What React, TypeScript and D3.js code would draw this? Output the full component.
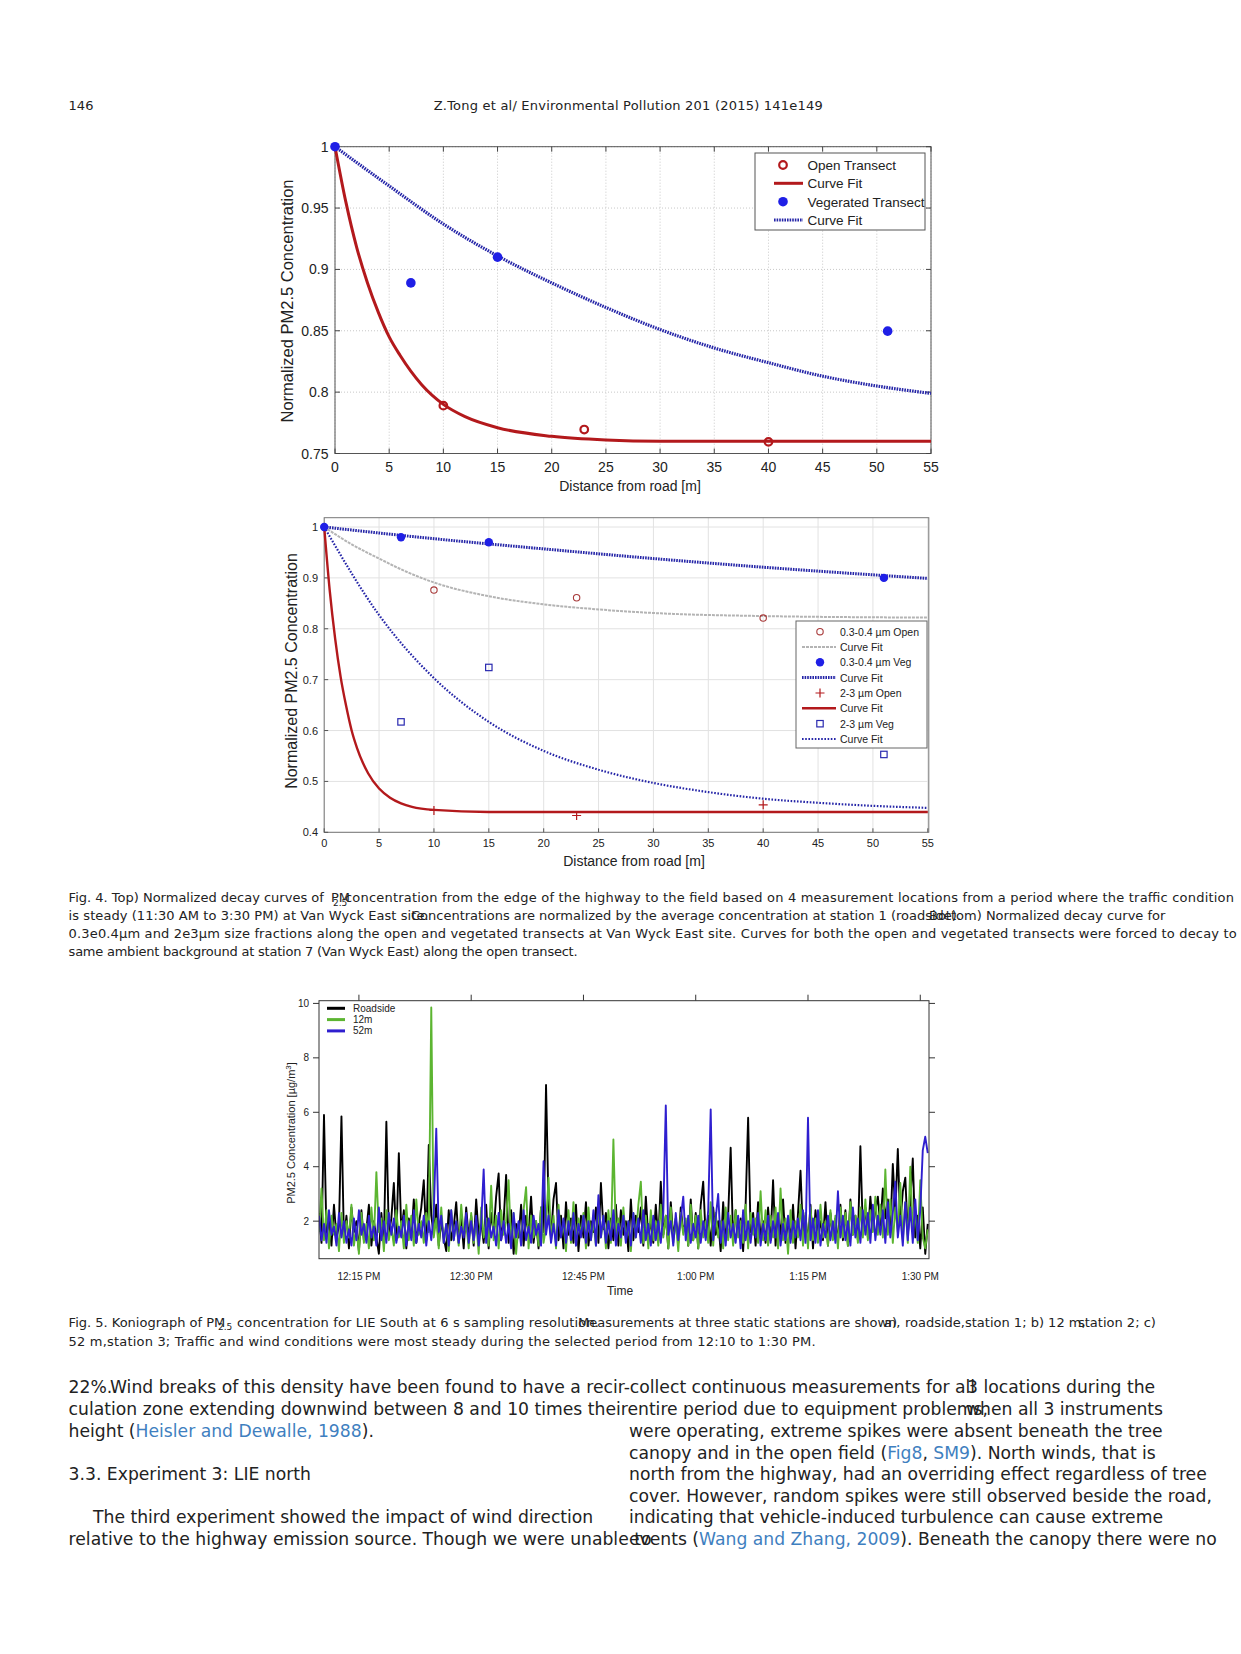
import React from 'react';
import * as d3 from 'd3';

// ---------- Top chart data ----------
const TOP_X_TICKS = [0, 5, 10, 15, 20, 25, 30, 35, 40, 45, 50, 55];
const TOP_Y_TICKS = [0.75, 0.8, 0.85, 0.9, 0.95, 1];
const TOP_Y_LABELS = ['0.75', '0.8', '0.85', '0.9', '0.95', '1'];
const TOP_OPEN_X = [10, 23, 40];
const TOP_OPEN_Y = [0.789, 0.7695, 0.7595];
const TOP_VEG_X = [0, 7, 15, 51];
const TOP_VEG_Y = [1.0, 0.889, 0.91, 0.8497];
const TOP_OPEN_FIT_X = [0, 1, 2, 3, 4, 5, 6, 8, 10, 12, 15, 20, 25, 30, 40, 55];
const TOP_OPEN_FIT_Y = [1.0, 0.955, 0.918, 0.889, 0.865, 0.845, 0.83, 0.806, 0.79, 0.78, 0.771, 0.764, 0.761, 0.76, 0.76, 0.76];
const TOP_VEG_FIT_X = [0, 5, 10, 15, 20, 25, 30, 35, 40, 45, 50, 55];
const TOP_VEG_FIT_Y = [1.0, 0.968, 0.937, 0.911, 0.889, 0.869, 0.851, 0.836, 0.824, 0.813, 0.805, 0.799];

// ---------- Middle chart data ----------
const MID_X_TICKS = [0, 5, 10, 15, 20, 25, 30, 35, 40, 45, 50, 55];
const MID_Y_TICKS = [0.4, 0.5, 0.6, 0.7, 0.8, 0.9, 1];
const MID_Y_LABELS = ['0.4', '0.5', '0.6', '0.7', '0.8', '0.9', '1'];
const SMALL_OPEN_X = [10, 23, 40];
const SMALL_OPEN_Y = [0.876, 0.861, 0.821];
const SMALL_OPEN_FIT_X = [0, 2.5, 5, 7.5, 10, 15, 20, 25, 30, 40, 55];
const SMALL_OPEN_FIT_Y = [1.0, 0.966, 0.938, 0.912, 0.891, 0.864, 0.848, 0.838, 0.831, 0.825, 0.822];
const SMALL_VEG_X = [0, 7, 15, 51];
const SMALL_VEG_Y = [1.0, 0.98, 0.97, 0.9];
const SMALL_VEG_FIT_X = [0, 10, 20, 30, 40, 55];
const SMALL_VEG_FIT_Y = [1.0, 0.977, 0.957, 0.938, 0.921, 0.899];
const LARGE_OPEN_X = [10, 23, 40];
const LARGE_OPEN_Y = [0.443, 0.433, 0.454];
const LARGE_OPEN_FIT_X = [0, 0.5, 1, 1.5, 2, 2.5, 3, 4, 5, 6, 7, 8, 10, 15, 55];
const LARGE_OPEN_FIT_Y = [1.0, 0.876, 0.78, 0.705, 0.648, 0.6, 0.565, 0.516, 0.486, 0.468, 0.457, 0.45, 0.444, 0.44, 0.44];
const LARGE_VEG_X = [7, 15, 51];
const LARGE_VEG_Y = [0.617, 0.724, 0.553];
const LARGE_VEG_FIT_X = [0, 5, 10, 15, 20, 25, 30, 35, 40, 45, 50, 55];
const LARGE_VEG_FIT_Y = [1.0, 0.827, 0.703, 0.617, 0.56, 0.523, 0.497, 0.479, 0.466, 0.458, 0.452, 0.448];

// ---------- Bottom chart data (20 s steps from 12:09:40) ----------
const SERIES_NAMES = ['Roadside', '12m', '52m'];
const Y3_TICKS = [2, 4, 6, 8, 10];
const TIME_TICK_LABELS = ['12:15 PM', '12:30 PM', '12:45 PM', '1:00 PM', '1:15 PM', '1:30 PM'];
const TIME_TICK_HM = [[12, 15], [12, 30], [12, 45], [13, 0], [13, 15], [13, 30]];
const ROADSIDE = [
  2.3, 1.2, 5.9, 1.5, 2.0, 1.1, 2.6, 1.4, 1.8, 5.85, 1.3, 2.2, 1.0, 2.5, 1.6,
  2.0, 0.9, 2.4, 1.3, 1.7, 2.6, 1.1, 2.0, 1.4, 0.8, 2.3, 1.2, 5.65, 1.5, 2.1,
  3.4, 1.3, 4.5, 1.6, 2.4, 1.0, 2.1, 1.4, 2.8, 1.2, 1.9, 2.5, 3.5, 1.3, 4.8,
  2.2, 1.5, 2.6, 1.1, 2.0, 1.4, 0.9, 2.4, 1.3, 1.8, 2.7, 1.2, 2.1, 1.0, 2.5,
  1.4, 2.2, 1.1, 2.8, 1.5, 2.0, 1.2, 2.6, 1.0, 2.3, 1.6, 2.9, 3.75, 1.3, 2.0,
  3.7, 1.2, 2.4, 0.8, 1.9, 1.4, 2.6, 1.1, 2.2, 1.5, 2.9, 1.2, 2.0, 1.0, 2.5,
  1.6, 7.0, 2.6, 1.4, 2.8, 3.4, 1.3, 2.2, 1.0, 2.7, 1.5, 2.1, 1.2, 2.6, 0.9,
  2.2, 1.4, 2.7, 1.1, 2.0, 1.6, 2.5, 1.2, 3.4, 1.7, 2.3, 1.0, 2.1, 1.3, 2.6,
  1.1, 2.4, 1.5, 2.0, 0.9, 2.8, 1.3, 2.2, 1.6, 2.5, 1.1, 2.9, 1.4, 2.0, 1.2,
  2.6, 1.3, 3.45, 1.5, 2.2, 1.0, 2.7, 1.4, 2.1, 1.2, 2.5, 1.6, 2.0, 1.1, 2.8,
  1.3, 2.3, 1.0, 2.6, 3.45, 1.4, 2.2, 1.1, 2.5, 1.5, 2.0, 0.9, 2.7, 1.3, 2.2,
  4.7, 1.2, 2.4, 1.5, 2.1, 0.9, 2.6, 5.8, 1.6, 2.3, 1.1, 2.7, 1.4, 2.0, 1.2,
  2.5, 1.3, 3.5, 1.1, 2.2, 1.5, 2.8, 1.2, 2.0, 1.4, 2.6, 1.0, 2.3, 3.85, 1.5,
  2.2, 1.2, 2.6, 1.0, 2.4, 1.5, 2.0, 1.3, 2.7, 1.1, 2.3, 1.4, 2.1, 1.2, 2.6,
  1.3, 2.4, 1.1, 2.8, 1.5, 2.2, 1.3, 4.75, 1.6, 2.5, 1.4, 2.9, 1.7, 2.4, 2.9,
  1.8, 3.2, 2.1, 2.8, 1.6, 4.1, 2.3, 4.65, 1.9, 3.1, 3.6, 1.5, 2.7, 4.3, 1.4,
  2.2, 1.0, 2.5, 0.8, 1.9,
];
const TWELVE_M = [
  1.6, 3.2, 1.3, 2.4, 1.0, 2.2, 1.5, 1.9, 0.9, 2.3, 1.2, 2.0, 1.4, 2.6, 1.1,
  1.8, 0.8, 2.3, 1.2, 1.9, 1.0, 2.5, 1.3, 3.8, 1.6, 2.1, 0.9, 2.4, 1.3, 1.8,
  1.1, 2.4, 1.4, 2.0, 1.0, 2.6, 1.3, 2.2, 1.1, 2.8, 1.5, 2.0, 1.2, 2.3, 1.6,
  9.85, 1.4, 2.1, 1.0, 2.5, 1.2, 1.9, 0.9, 2.4, 1.3, 2.0, 1.1, 2.6, 1.5, 1.9,
  1.0, 2.3, 1.2, 2.0, 0.8, 2.5, 1.4, 2.1, 1.1, 3.3, 1.3, 2.2, 1.0, 2.4, 1.5,
  2.0, 3.5, 1.1, 2.3, 0.8, 1.9, 1.3, 2.4, 3.25, 1.0, 2.2, 1.4, 2.0, 1.1, 2.5,
  1.2, 1.8, 3.6, 1.3, 2.2, 1.0, 2.6, 1.4, 2.0, 0.9, 2.4, 1.2, 2.7, 1.1, 2.1,
  1.5, 2.3, 1.0, 2.5, 1.3, 2.0, 1.1, 2.6, 1.4, 2.2, 1.0, 2.4, 1.2, 5.0, 1.5,
  2.1, 1.1, 2.5, 1.3, 2.0, 0.9, 2.3, 1.4, 2.6, 3.45, 1.2, 2.2, 1.0, 2.4, 1.3,
  2.0, 1.1, 2.6, 1.4, 2.2, 1.0, 2.5, 1.2, 2.0, 0.9, 2.3, 1.5, 2.1, 1.1, 2.6,
  1.3, 2.2, 1.0, 2.4, 1.4, 2.0, 1.2, 2.7, 1.1, 2.3, 1.4, 2.0, 1.0, 2.5, 1.3,
  2.2, 1.1, 2.4, 1.4, 2.0, 1.2, 2.6, 1.0, 2.3, 1.5, 2.1, 1.2, 3.1, 1.3, 2.4,
  1.1, 2.2, 1.4, 2.5, 1.0, 3.2, 1.3, 2.1, 0.8, 2.4, 1.2, 2.0, 1.4, 2.6, 1.1,
  2.3, 1.0, 2.5, 1.3, 2.1, 1.2, 2.6, 1.4, 2.0, 1.1, 2.4, 1.3, 2.2, 1.0, 2.5,
  1.4, 2.3, 1.1, 2.7, 1.5, 2.2, 1.2, 2.5, 1.4, 2.8, 1.3, 2.4, 1.6, 2.9, 1.5,
  2.6, 1.4, 3.9, 1.5, 2.8, 1.2, 2.5, 1.6, 3.4, 1.3, 2.7, 1.2, 4.0, 1.6, 2.3,
  1.2, 3.5, 1.4, 1.0, 1.7,
];
const FIFTY_TWO_M = [
  2.2, 1.3, 1.9, 1.2, 2.4, 1.5, 1.8, 1.1, 2.3, 1.4, 2.0, 1.2, 1.7, 1.1, 2.1,
  1.3, 2.4, 1.5, 1.9, 1.2, 2.2, 1.4, 1.8, 1.1, 2.5, 1.3, 2.0, 1.2, 2.3, 1.5,
  2.1, 1.2, 1.8, 1.4, 2.2, 1.1, 2.0, 1.3, 2.4, 1.2, 1.9, 1.4, 2.2, 1.1, 2.0,
  1.3, 2.3, 5.4, 1.6, 2.2, 1.2, 1.9, 1.1, 2.4, 1.3, 2.0, 1.2, 1.8, 1.4, 2.3,
  1.2, 2.0, 1.3, 2.2, 1.1, 1.9, 3.9, 1.2, 2.1, 1.4, 1.8, 1.1, 2.3, 1.3, 2.0,
  1.2, 1.9, 1.0, 2.3, 1.4, 2.0, 1.1, 2.4, 1.3, 1.8, 1.2, 2.2, 1.5, 1.9, 1.1,
  4.2, 1.5, 2.2, 1.2, 1.9, 1.1, 2.4, 1.4, 2.1, 1.2, 2.0, 1.3, 2.3, 1.1, 1.9,
  1.4, 2.2, 1.2, 2.0, 1.3, 2.4, 1.1, 2.95, 1.4, 2.2, 1.2, 2.0, 1.3, 2.4, 1.1,
  1.9, 1.4, 2.2, 1.2, 2.0, 1.1, 2.3, 1.4, 2.1, 1.2, 2.4, 1.3, 1.9, 1.1, 2.2,
  1.3, 2.0, 1.2, 2.3, 6.25, 1.5, 2.0, 1.1, 2.3, 1.3, 2.1, 2.9, 1.3, 2.2, 1.2,
  1.9, 1.4, 2.2, 1.2, 2.0, 1.3, 2.4, 6.1, 1.3, 2.1, 3.0, 1.2, 2.0, 1.1, 2.3,
  1.4, 1.9, 1.2, 2.2, 1.0, 2.4, 1.3, 2.0, 1.2, 2.1, 1.4, 2.3, 1.1, 1.9, 1.3,
  2.2, 1.2, 2.0, 1.4, 2.3, 1.1, 1.9, 1.3, 2.2, 1.2, 2.0, 1.4, 2.1, 1.3, 2.4,
  1.2, 5.8, 1.3, 2.1, 1.2, 2.4, 1.1, 1.9, 1.4, 2.2, 1.3, 2.0, 1.2, 3.1, 1.4,
  2.2, 1.3, 2.0, 1.1, 2.5, 1.4, 2.1, 1.2, 2.4, 1.5, 2.3, 1.2, 2.6, 1.3, 2.2,
  1.5, 2.4, 1.2, 2.7, 1.4, 2.3, 3.45, 1.4, 2.2, 1.1, 2.7, 1.3, 2.5, 1.2, 2.8,
  1.3, 2.4, 4.6, 5.1, 4.5,
];

const CHART_FONT = '"Liberation Sans", Arial, Helvetica, sans-serif';
const PAGE_FONT = '"DejaVu Sans", Verdana, sans-serif';
const RED = '#b3191c';
const BLUE_PT = '#1f1fe6';
const BLUE_LINE = '#2626a8';
const LINK = '#3f7fbf';

function zip(xs: number[], ys: number[]): [number, number][] {
  return xs.map((v, i) => [v, ys[i]] as [number, number]);
}

function TopChart() {
  const x = d3.scaleLinear().domain([0, 55]).range([335, 931]);
  const y = d3.scaleLinear().domain([0.75, 1]).range([453.5, 146.7]);
  const line = d3.line<[number, number]>().x(d => x(d[0])).y(d => y(d[1])).curve(d3.curveMonotoneX);
  const [x0, x1] = x.range();
  const [y0, y1] = y.range();
  const leg = { x: 755, y: 153, w: 170, h: 77 };
  const rows = [165, 183.3, 201.7, 220];
  return (
    <g fontFamily={CHART_FONT}>
      {TOP_X_TICKS.map(t => (
        <line key={'gx' + t} x1={x(t)} x2={x(t)} y1={y1} y2={y0} stroke="#c8c8c8" strokeWidth={1} strokeDasharray="1,2" />
      ))}
      {TOP_Y_TICKS.map(t => (
        <line key={'gy' + t} x1={x0} x2={x1} y1={y(t)} y2={y(t)} stroke="#c8c8c8" strokeWidth={1} strokeDasharray="1,2" />
      ))}
      <rect x={x0} y={y1} width={x1 - x0} height={y0 - y1} fill="none" stroke="#555" strokeWidth={1} />
      {TOP_X_TICKS.map(t => (
        <g key={'tx' + t}>
          <line x1={x(t)} x2={x(t)} y1={y0} y2={y0 - 5} stroke="#444" />
          <line x1={x(t)} x2={x(t)} y1={y1} y2={y1 + 5} stroke="#444" />
          <text x={x(t)} y={471.5} textAnchor="middle" fontSize={14} fill="#222">{t}</text>
        </g>
      ))}
      {TOP_Y_TICKS.map((t, i) => (
        <g key={'ty' + t}>
          <line x1={x0} x2={x0 + 5} y1={y(t)} y2={y(t)} stroke="#444" />
          <line x1={x1} x2={x1 - 5} y1={y(t)} y2={y(t)} stroke="#444" />
          <text x={328.5} y={y(t) + 5} textAnchor="end" fontSize={14} fill="#222">{TOP_Y_LABELS[i]}</text>
        </g>
      ))}
      <text x={630} y={491} textAnchor="middle" fontSize={14} fill="#222">Distance from road [m]</text>
      <text transform="translate(293,301) rotate(-90)" textAnchor="middle" fontSize={16.5} fill="#222">Normalized PM2.5 Concentration</text>

      <path d={line(zip(TOP_VEG_FIT_X, TOP_VEG_FIT_Y)) || ''} fill="none" stroke={BLUE_LINE} strokeWidth={3.2} strokeDasharray="1.6,1" />
      <path d={line(zip(TOP_OPEN_FIT_X, TOP_OPEN_FIT_Y)) || ''} fill="none" stroke={RED} strokeWidth={3} />
      {TOP_OPEN_X.map((v, i) => (
        <circle key={'to' + i} cx={x(v)} cy={y(TOP_OPEN_Y[i])} r={3.8} fill="none" stroke={RED} strokeWidth={2.2} />
      ))}
      {TOP_VEG_X.map((v, i) => (
        <circle key={'tv' + i} cx={x(v)} cy={y(TOP_VEG_Y[i])} r={4.8} fill={BLUE_PT} />
      ))}

      <rect x={leg.x} y={leg.y} width={leg.w} height={leg.h} fill="#fff" stroke="#555" />
      <circle cx={783} cy={rows[0]} r={3.8} fill="none" stroke={RED} strokeWidth={2.2} />
      <text x={807.5} y={rows[0] + 5} fontSize={13.5} fill="#222">Open Transect</text>
      <line x1={774} x2={803} y1={rows[1]} y2={rows[1]} stroke={RED} strokeWidth={3} />
      <text x={807.5} y={rows[1] + 5} fontSize={13.5} fill="#222">Curve Fit</text>
      <circle cx={783} cy={rows[2]} r={4.8} fill={BLUE_PT} />
      <text x={807.5} y={rows[2] + 5} fontSize={13.5} fill="#222">Vegerated Transect</text>
      <line x1={774} x2={803} y1={rows[3]} y2={rows[3]} stroke={BLUE_LINE} strokeWidth={3.2} strokeDasharray="1.6,1" />
      <text x={807.5} y={rows[3] + 5} fontSize={13.5} fill="#222">Curve Fit</text>
    </g>
  );
}

function MidChart() {
  const x = d3.scaleLinear().domain([0, 55]).range([324.2, 927.8]);
  const y = d3.scaleLinear().domain([0.4, 1.0183]).range([832.3, 517.7]);
  const line = d3.line<[number, number]>().x(d => x(d[0])).y(d => y(d[1])).curve(d3.curveMonotoneX);
  const [x0, x1] = x.range();
  const [y0, y1] = y.range();
  const rows = [631.7, 646.9, 662.3, 677.6, 693.0, 708.3, 723.7, 739.0];
  const lx = 820;
  const tx = 840;
  const plus = (cx: number, cy: number, k: string) => (
    <path key={k} d={`M${cx - 4.5},${cy}H${cx + 4.5}M${cx},${cy - 4.5}V${cy + 4.5}`} stroke={RED} strokeWidth={1.2} />
  );
  return (
    <g fontFamily={CHART_FONT}>
      {MID_X_TICKS.map(t => (
        <line key={'gx' + t} x1={x(t)} x2={x(t)} y1={y1} y2={y0} stroke="#e2e2e2" strokeWidth={1} />
      ))}
      {MID_Y_TICKS.map(t => (
        <line key={'gy' + t} x1={x0} x2={x1} y1={y(t)} y2={y(t)} stroke="#e2e2e2" strokeWidth={1} />
      ))}
      <rect x={x0} y={y1} width={x1 - x0 + 1} height={y0 - y1} fill="none" stroke="#777" strokeWidth={1} />
      {MID_X_TICKS.map(t => (
        <g key={'tx' + t}>
          <line x1={x(t)} x2={x(t)} y1={y0} y2={y0 - 4} stroke="#555" />
          <text x={x(t)} y={846.5} textAnchor="middle" fontSize={11} fill="#222">{t}</text>
        </g>
      ))}
      {MID_Y_TICKS.map((t, i) => (
        <g key={'ty' + t}>
          <line x1={x0} x2={x0 + 4} y1={y(t)} y2={y(t)} stroke="#555" />
          <text x={318} y={y(t) + 4} textAnchor="end" fontSize={11} fill="#222">{MID_Y_LABELS[i]}</text>
        </g>
      ))}
      <text x={634} y={866} textAnchor="middle" fontSize={14} fill="#222">Distance from road [m]</text>
      <text transform="translate(297,671) rotate(-90)" textAnchor="middle" fontSize={16} fill="#222">Normalized PM2.5 Concentration</text>

      <path d={line(zip(SMALL_OPEN_FIT_X, SMALL_OPEN_FIT_Y)) || ''} fill="none" stroke="#b4b4b4" strokeWidth={2} strokeDasharray="3,1" />
      <path d={line(zip(LARGE_VEG_FIT_X, LARGE_VEG_FIT_Y)) || ''} fill="none" stroke={BLUE_LINE} strokeWidth={2.2} strokeDasharray="1.6,1.6" />
      <path d={line(zip(SMALL_VEG_FIT_X, SMALL_VEG_FIT_Y)) || ''} fill="none" stroke={BLUE_LINE} strokeWidth={3} strokeDasharray="1.6,1" />
      <path d={line(zip(LARGE_OPEN_FIT_X, LARGE_OPEN_FIT_Y)) || ''} fill="none" stroke={RED} strokeWidth={2.4} />
      {SMALL_OPEN_X.map((v, i) => (
        <circle key={'so' + i} cx={x(v)} cy={y(SMALL_OPEN_Y[i])} r={3.2} fill="none" stroke="#a83a3a" strokeWidth={1.1} />
      ))}
      {LARGE_OPEN_X.map((v, i) => plus(x(v), y(LARGE_OPEN_Y[i]), 'lo' + i))}
      {LARGE_VEG_X.map((v, i) => (
        <rect key={'lv' + i} x={x(v) - 3.2} y={y(LARGE_VEG_Y[i]) - 3.2} width={6.4} height={6.4} fill="none" stroke="#2a2ab0" strokeWidth={1.2} />
      ))}
      {SMALL_VEG_X.map((v, i) => (
        <circle key={'sv' + i} cx={x(v)} cy={y(SMALL_VEG_Y[i])} r={4.2} fill={BLUE_PT} />
      ))}

      <rect x={796} y={621} width={131} height={127} fill="#fff" stroke="#666" />
      <circle cx={lx} cy={rows[0]} r={3.2} fill="none" stroke="#a83a3a" strokeWidth={1.1} />
      <text x={tx} y={rows[0] + 4} fontSize={10.5} fill="#222">0.3-0.4 µm Open</text>
      <line x1={802} x2={836} y1={rows[1]} y2={rows[1]} stroke="#b4b4b4" strokeWidth={2} strokeDasharray="3,1" />
      <text x={tx} y={rows[1] + 4} fontSize={10.5} fill="#222">Curve Fit</text>
      <circle cx={lx} cy={rows[2]} r={4.2} fill={BLUE_PT} />
      <text x={tx} y={rows[2] + 4} fontSize={10.5} fill="#222">0.3-0.4 µm Veg</text>
      <line x1={802} x2={836} y1={rows[3]} y2={rows[3]} stroke={BLUE_LINE} strokeWidth={3} strokeDasharray="1.6,1" />
      <text x={tx} y={rows[3] + 4} fontSize={10.5} fill="#222">Curve Fit</text>
      {plus(lx, rows[4], 'lgplus')}
      <text x={tx} y={rows[4] + 4} fontSize={10.5} fill="#222">2-3 µm Open</text>
      <line x1={802} x2={836} y1={rows[5]} y2={rows[5]} stroke={RED} strokeWidth={2.4} />
      <text x={tx} y={rows[5] + 4} fontSize={10.5} fill="#222">Curve Fit</text>
      <rect x={lx - 3.2} y={rows[6] - 3.2} width={6.4} height={6.4} fill="none" stroke="#2a2ab0" strokeWidth={1.2} />
      <text x={tx} y={rows[6] + 4} fontSize={10.5} fill="#222">2-3 µm Veg</text>
      <line x1={802} x2={836} y1={rows[7]} y2={rows[7]} stroke={BLUE_LINE} strokeWidth={2.2} strokeDasharray="1.6,1.6" />
      <text x={tx} y={rows[7] + 4} fontSize={10.5} fill="#222">Curve Fit</text>
    </g>
  );
}

function BottomChart() {
  const T0 = new Date(2013, 6, 1, 12, 9, 40);
  const T1 = new Date(2013, 6, 1, 13, 31, 10);
  const x = d3.scaleTime().domain([T0, T1]).range([319, 929]);
  const y = d3.scaleLinear().domain([0.62, 10.1]).range([1258.7, 1000.7]);
  const [x0, x1] = x.range();
  const [y0, y1] = y.range();
  const tickDates = TIME_TICK_HM.map(([h, m]) => new Date(2013, 6, 1, h, m, 0));
  const series = [ROADSIDE, TWELVE_M, FIFTY_TWO_M];
  const colors = ['#000000', '#5cb531', '#2f1fcf'];
  const line = d3.line<number>()
    .x((_, i) => x(d3.timeSecond.offset(T0, i * 20)))
    .y(d => y(d));
  return (
    <g fontFamily={CHART_FONT}>
      <defs>
        <clipPath id="bclip"><rect x={x0} y={y1} width={x1 - x0} height={y0 - y1} /></clipPath>
      </defs>
      <g clipPath="url(#bclip)">
        {series.map((s, k) => (
          <path key={'s' + k} d={line(s) || ''} fill="none" stroke={colors[k]} strokeWidth={1.9} strokeLinejoin="round" />
        ))}
      </g>
      <rect x={x0} y={y1} width={x1 - x0} height={y0 - y1} fill="none" stroke="#333" strokeWidth={1} />
      {tickDates.map((d, i) => (
        <g key={'xt' + i}>
          <line x1={x(d)} x2={x(d)} y1={y1} y2={y1 - 6} stroke="#333" />
          <text x={x(d)} y={1279.5} textAnchor="middle" fontSize={10} fill="#222">{TIME_TICK_LABELS[i]}</text>
        </g>
      ))}
      {Y3_TICKS.map(t => (
        <g key={'yt' + t}>
          <line x1={x0} x2={x0 - 6} y1={y(t)} y2={y(t)} stroke="#333" />
          <line x1={x1} x2={x1 + 6} y1={y(t)} y2={y(t)} stroke="#333" />
          <text x={309} y={y(t) + 3.5} textAnchor="end" fontSize={10} fill="#222">{t}</text>
        </g>
      ))}
      <text x={620} y={1295} textAnchor="middle" fontSize={12} fill="#222">Time</text>
      <text transform="translate(295,1133) rotate(-90)" textAnchor="middle" fontSize={11} fill="#222">
        PM2.5 Concentration [µg/m<tspan dy={-4} fontSize={8}>3</tspan><tspan dy={4}>]</tspan>
      </text>
      {SERIES_NAMES.map((n, i) => (
        <g key={'lg' + i}>
          <line x1={327} x2={345} y1={1008.3 + i * 11.3} y2={1008.3 + i * 11.3} stroke={colors[i]} strokeWidth={3} />
          <text x={353} y={1011.8 + i * 11.3} fontSize={10} fill="#222">{n}</text>
        </g>
      ))}
    </g>
  );
}

function PageText() {
  const cap = 13;
  const body = 17.2;
  const fill = '#222';
  const L = 68.6;
  const R = 629;
  const bl = [1393.2, 1415.3, 1436.5, 1458.6, 1479.7, 1501.8, 1523, 1545.2];
  return (
    <g fontFamily={PAGE_FONT} fill={fill}>
      <text x={L} y={110} fontSize={13}>146</text>
      <text x={433.7} y={110} fontSize={13} textLength={389} lengthAdjust="spacing">Z.Tong et al/ Environmental Pollution 201 (2015) 141e149</text>

      <g fontSize={cap}>
        <text x={L} y={901.5}>Fig. 4. Top) Normalized decay curves of </text>
        <text x={331} y={901.5}>PM</text>
        <text x={333} y={905.5} fontSize={9}>2.5</text>
        <text x={345} y={901.5} textLength={889} lengthAdjust="spacing">concentration from the edge of the highway to the field based on 4 measurement locations from a period where the traffic condition</text>
        <text x={L} y={919.5} textLength={360} lengthAdjust="spacing">is steady (11:30 AM to 3:30 PM) at Van Wyck East site.</text>
        <text x={411} y={919.5}>Concentrations are normalized by the average concentration at station 1 (roadside).</text>
        <text x={929} y={919.5}>Bottom) Normalized decay curve for</text>
        <text x={L} y={937.5} textLength={1168} lengthAdjust="spacing">0.3e0.4µm and 2e3µm size fractions along the open and vegetated transects at Van Wyck East site. Curves for both the open and vegetated transects were forced to decay to</text>
        <text x={L} y={955.5} textLength={509} lengthAdjust="spacing">same ambient background at station 7 (Van Wyck East) along the open transect.</text>

        <text x={L} y={1327}>Fig. 5. Koniograph of PM</text>
        <text x={218} y={1330} fontSize={9}>2.5</text>
        <text x={237} y={1327} textLength={362} lengthAdjust="spacing">concentration for LIE South at 6 s sampling resolution.</text>
        <text x={578} y={1327}>Measurements at three static stations are shown,</text>
        <text x={884} y={1327}>a)</text>
        <text x={905} y={1327}>roadside,station 1; b) 12 m,</text>
        <text x={1078} y={1327}>station 2; c)</text>
        <text x={L} y={1346} textLength={747} lengthAdjust="spacing">52 m,station 3; Traffic and wind conditions were most steady during the selected period from 12:10 to 1:30 PM.</text>
      </g>

      <g fontSize={body}>
        <text x={L} y={bl[0]}>22%.</text>
        <text x={110} y={bl[0]}>Wind breaks of this density have been found to have a recir-collect continuous measurements for all</text>
        <text x={967} y={bl[0]}>3 locations during the</text>
        <text x={L} y={bl[1]}>culation zone extending downwind between 8 and 10 times theirentire period due to equipment problems,</text>
        <text x={966} y={bl[1]}>when all 3 instruments</text>
        <text x={L} y={bl[2]}>height (<tspan fill={LINK}>Heisler and Dewalle, 1988</tspan>).</text>
        <text x={R} y={bl[2]}>were operating, extreme spikes were absent beneath the tree</text>
        <text x={R} y={bl[3]}>canopy and in the open field (<tspan fill={LINK}>Fig8</tspan>, <tspan fill={LINK}>SM9</tspan>). North winds, that is</text>
        <text x={L} y={bl[4]}>3.3. Experiment 3: LIE north</text>
        <text x={R} y={bl[4]}>north from the highway, had an overriding effect regardless of tree</text>
        <text x={R} y={bl[5]}>cover. However, random spikes were still observed beside the road,</text>
        <text x={93} y={bl[6]}>The third experiment showed the impact of wind direction</text>
        <text x={R} y={bl[6]}>indicating that vehicle-induced turbulence can cause extreme</text>
        <text x={L} y={bl[7]}>relative to the highway emission source. Though we were unable to</text>
        <text x={R} y={bl[7]}>events (<tspan fill={LINK}>Wang and Zhang, 2009</tspan>). Beneath the canopy there were no</text>
      </g>
    </g>
  );
}

export default function App() {
  return (
    <svg width={1241} height={1654} viewBox="0 0 1241 1654" style={{ position: 'absolute', left: 0, top: 0, background: '#fff' }}>
      <rect x={0} y={0} width={1241} height={1654} fill="#fff" />
      <TopChart />
      <MidChart />
      <BottomChart />
      <PageText />
    </svg>
  );
}
